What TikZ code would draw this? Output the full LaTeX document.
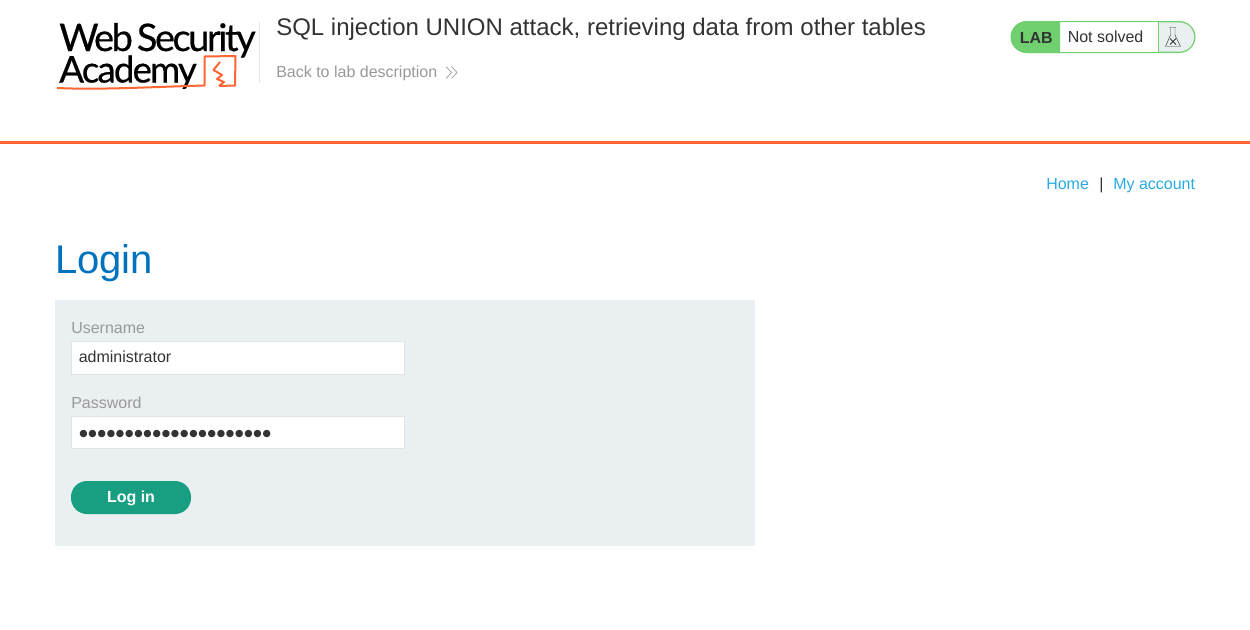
\documentclass[tikz,border=0pt]{standalone}
\usepackage{fontspec}
\setmainfont{Liberation Sans}
\newfontfamily\logofont[FakeBold=0.5]{Lato}
\newfontfamily\dotfont{DejaVu Sans}
\definecolor{labgreen}{RGB}{112,208,112}
\definecolor{accent}{RGB}{255,102,51}
\definecolor{panelgrey}{RGB}{234,239,242}
\definecolor{linkblue}{RGB}{41,171,226}
\definecolor{headblue}{RGB}{0,113,188}
\definecolor{btngreen}{RGB}{24,158,128}
\definecolor{txtdark}{RGB}{51,51,50}
\definecolor{txtgrey}{RGB}{153,153,153}
\definecolor{inputline}{RGB}{225,228,230}
\tikzset{
  txt/.style={anchor=base west,inner sep=0pt,text=txtdark,font=\fontsize{12}{14}\selectfont},
  greytxt/.style={txt,text=txtgrey},
  linktxt/.style={txt,text=linkblue},
  logotxt/.style={anchor=base west,inner sep=0pt,text=black,font=\logofont\fontsize{28.5}{30}\selectfont},
  inputbox/.style={draw=inputline,line width=0.75pt,fill=white},
}
\begin{document}
\begin{tikzpicture}[x=0.75pt,y=0.75pt,yscale=-1,xscale=1]
\useasboundingbox (0,0) rectangle (1250,629);

%Header rule
\fill [accent] (0,141) rectangle (1250,144);
%Logo divider
\draw [color=inputline,line width=0.75pt] (259.5,22) -- (259.5,83);

%Logo text
\node [logotxt] (logoweb) at (59,51) {\addfontfeature{LetterSpace=-6.5}Web\hspace{3pt}Security};
\node [logotxt,font=\logofont\fontsize{27.5}{30}\selectfont] (logoacademy) at (59,82.5) {\addfontfeature{LetterSpace=-5}Academy};
%Logo underline and box
\draw [color=accent,line width=1.5pt,line join=round] (57,88) .. controls (100,90) and (150,87) .. (204.5,85.5) -- (204.5,56.5) -- (235.5,56) -- (235,85.5) -- (219,86);
%Logo bolt
\draw [color=accent,line width=1.5pt,line join=round] (220,62) -- (213.5,70) -- (222,75) -- (217,79) -- (224,82) -- (219,86);

%Title text
\node [txt,font=\fontsize{18}{20}\selectfont] (title) at (276,35) {SQL injection UNION attack, retrieving data from other tables};
\node [greytxt] (backlink) at (276,77.5) {Back to lab description};
%Back chevrons
\draw [color=txtgrey,line width=0.5pt] (446,66.5) -- (451.5,72.5) -- (446,78.5);
\draw [color=txtgrey,line width=0.5pt] (451.5,66.5) -- (457,72.5) -- (451.5,78.5);

%Lab status pill
\draw [color=labgreen,fill=white,line width=0.75pt] (1027,21.5) -- (1179,21.5) .. controls (1188,21.5) and (1195,28.5) .. (1195,37) .. controls (1195,45.5) and (1188,52.5) .. (1179,52.5) -- (1027,52.5) .. controls (1018,52.5) and (1011,45.5) .. (1011,37) .. controls (1011,28.5) and (1018,21.5) .. (1027,21.5) -- cycle ;
\fill [labgreen] (1060,21) -- (1027,21) .. controls (1018,21) and (1011,28.5) .. (1011,37) .. controls (1011,45.5) and (1018,53) .. (1027,53) -- (1060,53) -- cycle ;
\draw [color=labgreen,fill=panelgrey,line width=0.5pt] (1158.5,22) -- (1179,22) .. controls (1188,22) and (1194.5,28.5) .. (1194.5,37) .. controls (1194.5,45.5) and (1188,52) .. (1179,52) -- (1158.5,52) -- cycle ;
\node [txt,font=\bfseries\fontsize{12}{14}\selectfont] (lablabel) at (1019.5,43) {LAB};
\node [txt] (labstatus) at (1067.5,42.5) {Not solved};
%Flask icon
\draw [color=txtdark,line width=0.35pt,line join=round] (1169,27.5) -- (1176,27.5) (1170.5,27.5) -- (1170.5,35) -- (1165.5,46.5) -- (1180.5,46.5) -- (1175,35) -- (1175,27.5);
\draw [color=txtdark,line width=0.6pt] (1170,38.5) -- (1176,44.5) (1176,38.5) -- (1170,44.5);

%Top navigation
\node [linktxt] (homelink) at (1046,189.5) {Home};
\node [txt] (navsep) at (1099,189.5) {|};
\node [linktxt] (accountlink) at (1113,189.5) {My account};

%Heading
\node [txt,text=headblue,font=\fontsize{30}{34}\selectfont] (heading) at (55,273) {Login};

%Form panel
\fill [panelgrey] (55,300) rectangle (755,546);
\node [greytxt] (userlabel) at (71,333.5) {Username};
\draw [inputbox] (71.5,341.5) rectangle (404.5,374.5);
\node [txt] (uservalue) at (78.5,362.5) {administrator};
\node [greytxt] (passlabel) at (71,408.5) {Password};
\draw [inputbox] (71.5,416.5) rectangle (404.5,448.5);
\node [txt,font=\dotfont\fontsize{7.2}{12}\selectfont\addfontfeature{LetterSpace=8.2}] (passvalue) at (79,436) {●●●●●●●●●●●●●●●●●●●●●};

%Log in button
\fill [btngreen,rounded corners=12pt] (71,481) rectangle (191,514);
\node [txt,anchor=base,text=white,font=\bfseries\fontsize{12}{14}\selectfont] (loginbtn) at (131,502.5) {Log in};
\end{tikzpicture}
\end{document}
